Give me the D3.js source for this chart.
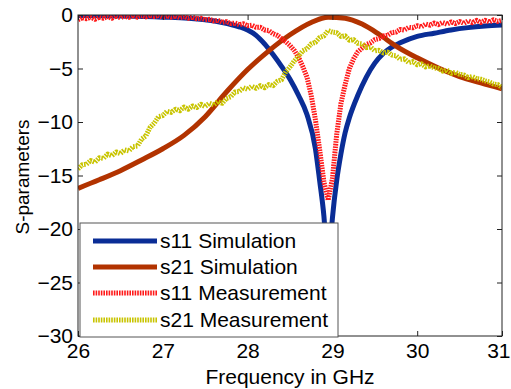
<!DOCTYPE html>
<html><head><meta charset="utf-8">
<script src="https://cdn.jsdelivr.net/npm/d3@7"></script>
<style>body{margin:0;background:#fff}svg{display:block}text{font-family:Arial,"Liberation Sans",sans-serif;fill:#000}</style>
</head><body><svg id="c" width="511" height="389"></svg>
<script>
const xTicks=[26,27,28,29,30,31];
const yTicks=[0,-5,-10,-15,-20,-25,-30];
const seriesNames=["s11 Simulation","s21 Simulation","s11 Measurement","s21 Measurement"];

const freqS11Sim=[26,26.5,27,27.3,27.5,27.7,27.9,28,28.1,28.2,28.3,28.4,28.5,28.6,28.7,28.8,28.85,28.9,28.95,29,29.05,29.1,29.15,29.2,29.3,29.4,29.5,29.6,29.7,29.8,30,30.2,30.4,30.6,30.8,31];
const s11Sim=[-0.05,-0.1,-0.2,-0.3,-0.45,-0.7,-1.1,-1.4,-1.9,-2.7,-3.7,-4.8,-6.0,-7.5,-9.3,-12.5,-15.5,-18.8,-24,-19,-15.5,-13,-11,-9.6,-7.5,-5.8,-4.5,-3.6,-3.0,-2.6,-2.0,-1.7,-1.4,-1.18,-1.03,-0.93];

const freqS21Sim=[26,26.25,26.5,26.75,27,27.25,27.5,27.75,28,28.25,28.5,28.75,28.95,29.15,29.35,29.55,29.75,30,30.25,30.5,30.75,31];
const s21Sim=[-16.2,-15.4,-14.55,-13.55,-12.5,-11.25,-9.5,-7.2,-5.1,-3.35,-1.85,-0.7,-0.2,-0.3,-0.85,-1.8,-2.9,-4.0,-4.95,-5.75,-6.35,-6.9];

const freqMeas=[26,26.05,26.1,26.15,26.2,26.25,26.3,26.35,26.4,26.45,26.5,26.55,26.6,26.65,26.7,26.75,26.8,26.85,26.9,26.95,
27,27.05,27.1,27.15,27.2,27.25,27.3,27.35,27.4,27.45,27.5,27.55,27.6,27.65,27.7,27.75,27.8,27.85,27.9,27.95,
28,28.05,28.1,28.15,28.2,28.25,28.3,28.35,28.4,28.45,28.5,28.55,28.6,28.65,28.7,28.75,28.8,28.85,28.9,28.95,
29,29.05,29.1,29.15,29.2,29.25,29.3,29.35,29.4,29.45,29.5,29.55,29.6,29.65,29.7,29.75,29.8,29.85,29.9,29.95,
30,30.05,30.1,30.15,30.2,30.25,30.3,30.35,30.4,30.45,30.5,30.55,30.6,30.65,30.7,30.75,30.8,30.85,30.9,30.95,31];

const s11Meas=[-0.45,-0.25,-0.35,-0.2,-0.4,-0.2,-0.3,-0.15,-0.3,-0.1,-0.25,-0.1,-0.22,-0.05,-0.2,-0.05,-0.18,-0.05,-0.15,-0.05,
-0.2,-0.08,-0.2,-0.1,-0.25,-0.15,-0.3,-0.2,-0.35,-0.3,-0.45,-0.4,-0.55,-0.5,-0.68,-0.62,-0.8,-0.75,-0.9,-0.82,
-1.0,-0.95,-1.15,-1.15,-1.4,-1.45,-1.75,-1.9,-2.2,-2.5,-2.85,-3.3,-3.95,-4.8,-5.8,-7.5,-9.8,-12.6,-15.6,-17.3,
-15.3,-11.2,-8.3,-6.5,-5.0,-4.1,-3.45,-3.1,-2.75,-2.6,-2.3,-2.2,-1.95,-1.9,-1.65,-1.6,-1.35,-1.4,-1.15,-1.2,
-1.0,-1.1,-0.85,-0.95,-0.75,-0.9,-0.7,-0.85,-0.65,-0.8,-0.6,-0.78,-0.55,-0.72,-0.5,-0.7,-0.5,-0.65,-0.45,-0.6,-0.5];

const s21Meas=[-14.4,-14.0,-13.95,-13.6,-13.75,-13.35,-13.4,-13.0,-13.15,-12.8,-12.95,-12.6,-12.7,-12.3,-12.25,-11.6,-11.3,-10.5,-10.1,-9.5,
-9.4,-9.0,-9.1,-8.8,-8.95,-8.6,-8.8,-8.5,-8.65,-8.35,-8.55,-8.25,-8.4,-8.1,-8.25,-7.8,-7.65,-7.2,-7.15,-6.8,
-6.95,-6.65,-6.85,-6.6,-6.8,-6.5,-6.6,-6.2,-6.05,-5.3,-4.85,-4.3,-3.85,-3.35,-3.15,-2.7,-2.55,-2.1,-1.95,-1.45,
-1.6,-1.65,-2.0,-1.95,-2.35,-2.3,-2.65,-2.7,-3.05,-3.0,-3.35,-3.3,-3.55,-3.45,-3.75,-3.8,-4.15,-4.1,-4.45,-4.35,
-4.65,-4.55,-4.85,-4.75,-4.95,-5.0,-5.25,-5.15,-5.45,-5.35,-5.55,-5.6,-5.85,-5.75,-5.95,-6.0,-6.15,-6.25,-6.45,-6.5,-6.8];

const colors=["#0a2d96","#b23300","#ff1a1a","#c8c400"];
const FS=21;

const svg=d3.select("#c");
const L=78,R=502,T=15,B=336;
const x=d3.scaleLinear().domain([26,31]).range([L,R]);
const y=d3.scaleLinear().domain([-30,0]).range([B,T]);

svg.append("clipPath").attr("id","pc").append("rect").attr("x",L).attr("y",T).attr("width",R-L).attr("height",B-T);
const g=svg.append("g").attr("clip-path","url(#pc)");
const line=d3.line().x(d=>x(d[0])).y(d=>y(d[1]));
const zip=(a,b)=>a.map((v,i)=>[v,b[i]]);

function draw(fx,vals,col,dash,curve){
  g.append("path").datum(zip(fx,vals))
   .attr("d",line.curve(curve)).attr("fill","none").attr("stroke",col)
   .attr("stroke-width",5).attr("stroke-dasharray",dash||null).attr("stroke-linejoin","round");
}
draw(freqS11Sim,s11Sim,colors[0],null,d3.curveMonotoneX);
draw(freqS21Sim,s21Sim,colors[1],null,d3.curveMonotoneX);
draw(freqMeas,s11Meas,colors[2],"1.6,1",d3.curveLinear);
draw(freqMeas,s21Meas,colors[3],"1.6,1",d3.curveLinear);

// frame and ticks
const ax=svg.append("g");
ax.append("rect").attr("x",L).attr("y",T).attr("width",R-L).attr("height",B-T).attr("fill","none").attr("stroke","#222").attr("stroke-width",1);
const axB=d3.axisBottom(x).tickValues(xTicks).tickSize(-5).tickFormat(d3.format("d"));
const axT=d3.axisTop(x).tickValues(xTicks).tickSize(-5).tickFormat("");
const axL=d3.axisLeft(y).tickValues(yTicks).tickSize(-5).tickFormat(d3.format("d"));
const axR=d3.axisRight(y).tickValues(yTicks).tickSize(-5).tickFormat("");
function style(sel){sel.select(".domain").remove();sel.selectAll("line").attr("stroke","#222");sel.selectAll("text").attr("font-size",FS).attr("fill","#000").attr("font-family","Arial, 'Liberation Sans', sans-serif");}
const bx=ax.append("g").attr("transform",`translate(0,${B})`).call(axB).call(style);
bx.selectAll("text").attr("dy","0.71em").attr("y",7);
bx.selectAll("text").filter(d=>d===31).attr("text-anchor","end").attr("x",8);
ax.append("g").attr("transform",`translate(0,${T})`).call(axT).call(style);
ax.append("g").attr("transform",`translate(${L},0)`).call(axL).call(style).selectAll("text").attr("x",-5);
ax.append("g").attr("transform",`translate(${R},0)`).call(axR).call(style);

svg.append("text").attr("x",(L+R)/2).attr("y",384).attr("text-anchor","middle").attr("font-size",FS).text("Frequency in GHz");
svg.append("text").attr("transform","translate(29,177) rotate(-90)").attr("text-anchor","middle").attr("font-size",19).text("S-parameters");

// legend
const lg=svg.append("g");
lg.append("rect").attr("x",80).attr("y",223).attr("width",258).attr("height",114).attr("fill","#fff").attr("stroke","#555").attr("stroke-width",1);
const rows=[241,267,293,320];
const dashes=[null,null,"1.6,1","1.6,1"];
seriesNames.forEach((n,i)=>{
  lg.append("line").attr("x1",93).attr("x2",157).attr("y1",rows[i]).attr("y2",rows[i]).attr("stroke",colors[i]).attr("stroke-width",5).attr("stroke-dasharray",dashes[i]);
  lg.append("text").attr("x",160).attr("y",rows[i]).attr("dy","0.35em").attr("font-size",FS).text(n);
});
</script></body></html>
